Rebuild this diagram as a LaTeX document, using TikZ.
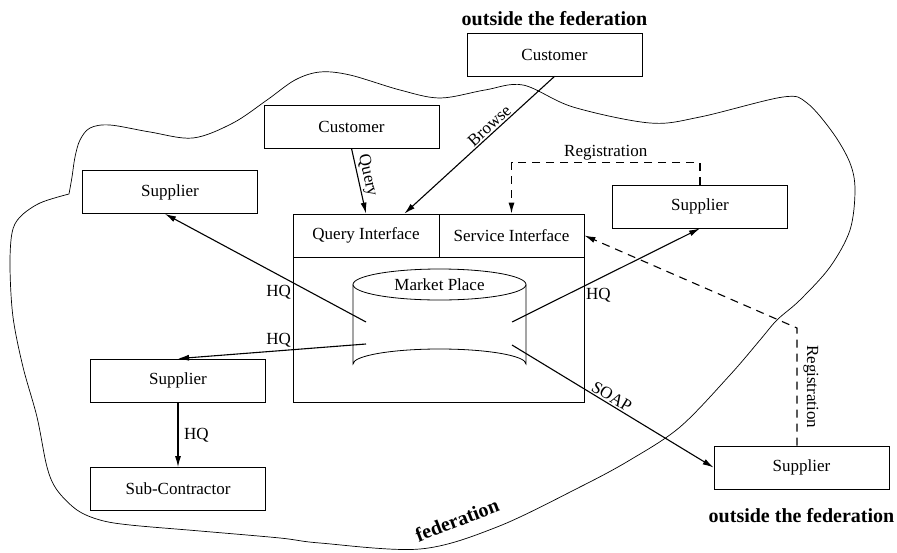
\documentclass[tikz,border=0pt]{standalone}
\usepackage{fontspec}
\setmainfont{Liberation Serif}
\usetikzlibrary{arrows.meta,calc}
\begin{document}
\begin{tikzpicture}[x=1pt,y=-1pt,
  txt/.style={font=\fontsize{17}{20}\selectfont},
  box/.style={txt,draw,line width=0.8pt,minimum width=175pt,minimum height=43pt,inner sep=0pt},
  cell/.style={txt,draw,line width=0.8pt,minimum height=43pt,inner sep=0pt},
  link/.style={line width=1.1pt,-{Latex[length=11pt,width=6pt]}},
  reg/.style={link,dash pattern=on 8pt off 6pt},
  lbl/.style={txt,inner sep=1.5pt},
  note/.style={font=\bfseries\fontsize{20}{24}\selectfont,inner sep=0pt}]
\useasboundingbox (0,0) rectangle (897,552);

% federation boundary (starts and ends at the notch on the left)
\draw[line width=0.7pt] plot[smooth, tension=0.55] coordinates {
  (69,194) (72,177) (75,157) (80,140) (90,128) (110,125) (150,132) (193,138)
  (233,123) (267,100) (295,80) (320,72) (350,75) (400,90) (440,98)
  (485,90) (523,85) (573,107) (650,123) (700,117) (783,97) (807,103)
  (833,133) (850,163) (855,190) (850,230) (830,267) (800,300) (777,320)
  (760,340) (730,375) (680,427) (630,460) (580,487) (497,527) (420,549)
  (320,543) (280,538) (200,531) (130,525) (100,520) (77,510) (57,490)
  (47,467) (37,417) (23,367) (13,317) (10,267) (12,233) (20,217) (40,203)
  (69,194)};
\node[note,rotate=21] (fedlbl) at (457,520) {federation};

% boxes
\node[box] (custOut) at (554.5,54.5) {Customer};
\node[box] (custIn)  at (351.5,126.5) {Customer};
\node[box] (supTL)   at (170,192) {Supplier};
\node[box] (supML)   at (178,380.5) {Supplier};
\node[box] (subC)    at (178,489) {Sub-Contractor};
\node[box] (supR)    at (700,206.5) {Supplier};
\node[box] (supBR)   at (801.5,467.5) {Supplier};

\node[note,anchor=base] (outTop) at ($(custOut.north)+(0,-7)$) {outside the federation};
\node[note,anchor=base] (outBot) at ($(supBR.south)+(0,33)$) {outside the federation};

% market place
\node[draw,line width=0.8pt,minimum width=291pt,minimum height=188pt,inner sep=0pt] (mkt) at (438.5,308) {};
\node[cell,minimum width=146pt] (qi) at (366,235.5) {Query Interface};
\node[cell,minimum width=145pt] (si) at (511.5,235.5) {Service Interface};

% database cylinder
\draw[line width=0.8pt] (353,284.5) -- (353,364) arc[start angle=180,end angle=360,x radius=86.5,y radius=15]
  -- (526,284.5);
\draw[line width=0.8pt] (439.5,284.5) ellipse[x radius=86.5,y radius=15.5];
\node[txt] (mp) at (439.5,285) {Market Place};
\coordinate (mpL1) at (366,322);
\coordinate (mpL2) at (366,344);
\coordinate (mpR1) at (512,322);
\coordinate (mpR2) at (512,345);

% connectors
\draw[link] (custIn.south) -- node[lbl,sloped,above,pos=0.45] (lQuery) {Query} (qi.north);
\draw[link] (custOut.south) -- node[lbl,sloped,above,pos=0.4] (lBrowse) {Browse} ($(qi.north east)+(-35,0)$);
\draw[link] (mpL1) -- node[lbl,pos=0.363,anchor=north east] (lHQ1) {HQ} ($(supTL.south)+(-5,0)$);
\draw[link] (mpL2) -- node[lbl,pos=0.388,anchor=south east] (lHQ2) {HQ} (supML.north);
\draw[link] (mpR1) -- node[lbl,pos=0.383,anchor=north west] (lHQ3) {HQ} (supR.south);
\draw[link] (supML.south) -- node[lbl,right=4pt] (lHQ4) {HQ} (subC.north);
\draw[link] (mpR2) -- node[lbl,sloped,above,pos=0.475] (lSoap) {SOAP} (supBR.west);

\draw[reg] (supR.north) -- ++(0,-22) -| node[lbl,pos=0.25,above] (lReg1) {Registration} (si.north);
\coordinate (regStart) at ($(supBR.north)+(-4.5,0)$);
\coordinate (regBend) at (797,328);
\draw[reg] (regStart) -- node[lbl,rotate=-90,anchor=south,inner sep=6pt] (lReg2) {Registration} (regBend) -- (si.east);
\end{tikzpicture}
\end{document}
